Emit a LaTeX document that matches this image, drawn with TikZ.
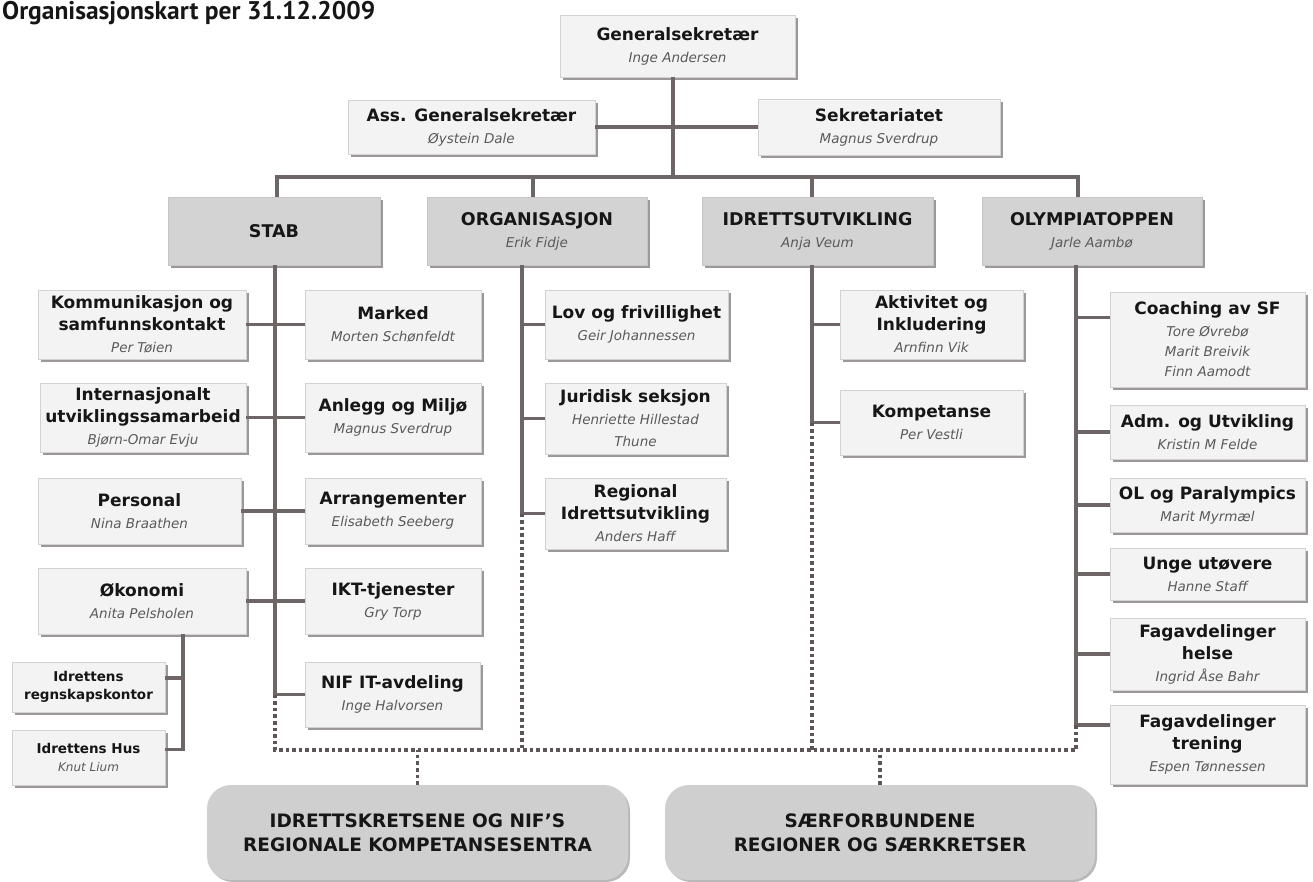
\documentclass[tikz,border=0pt]{standalone}
\usepackage{fontspec}
\setmainfont{DejaVu Sans}
\newfontfamily\ttlfont{PT Sans}
\usetikzlibrary{shadows}
\definecolor{linec}{HTML}{6E6666}
\definecolor{dotcol}{HTML}{5E5656}
\definecolor{boxfill}{HTML}{F3F3F3}
\definecolor{boxline}{HTML}{D2D2D2}
\definecolor{shadowc}{HTML}{9C9898}
\definecolor{headfill}{HTML}{D3D3D3}
\definecolor{headline}{HTML}{C6C6C6}
\definecolor{botfill}{HTML}{CFCFCF}
\definecolor{txtc}{HTML}{161616}
\definecolor{namec}{HTML}{5A5A5A}
\newcommand\nm[1]{{\fontsize{13.5}{20}\selectfont\mdseries\itshape\color{namec}#1}}
\newcommand\snm[1]{{\fontsize{12}{16}\selectfont\mdseries\itshape\color{namec}#1}}
\begin{document}
\begin{tikzpicture}[x=1pt,y=-1pt,
  sz/.style 2 args={minimum width=#1pt, minimum height=#2pt},
  box/.style={draw=boxline, line width=0.8pt, fill=boxfill,
    drop shadow={shadow xshift=2.5pt, shadow yshift=-3pt, fill=shadowc, opacity=1},
    inner sep=0pt, align=center, text=txtc,
    font=\fontsize{17}{22}\selectfont\bfseries},
  head/.style={box, fill=headfill, draw=headline,
    font=\fontsize{17.5}{22}\selectfont\bfseries},
  smallbox/.style={box, font=\fontsize{13.5}{18}\selectfont\bfseries},
  bottom/.style={fill=botfill, rounded corners=24pt, inner sep=0pt, align=center,
    text=txtc, drop shadow={shadow xshift=2pt, shadow yshift=-2pt, fill=gray!55, opacity=1},
    font=\fontsize{18.5}{24}\selectfont\bfseries},
  conn/.style={draw=linec, line width=3.4pt},
  dotc/.style={draw=dotcol, line width=3.2pt, dash pattern=on 3.6pt off 3pt}]
\useasboundingbox (0,0) rectangle (1313,882);
\fill[white] (0,0) rectangle (1313,882);

% title
\node[anchor=base west, inner sep=0pt, text=txtc, font={\ttlfont\bfseries\fontsize{25.5}{28}\selectfont}] (title) at (2,20) {Organisasjonskart per 31.12.2009};

% top level
\node[box, sz={235}{62}] (gen) at (677.5,46) {Generalsekretær\\\nm{Inge Andersen}};
\node[box, sz={247}{54}] (ass) at (471.5,127) {Ass. Generalsekretær\\\nm{Øystein Dale}};
\node[box, sz={242}{56}] (sek) at (879,127) {Sekretariatet\\\nm{Magnus Sverdrup}};

% level 2
\node[head, sz={212}{68}] (stab) at (274,231) {STAB};
\node[head, sz={220}{68}] (org) at (537,231) {ORGANISASJON\\\nm{Erik Fidje}};
\node[head, sz={231}{68}] (idr) at (817.5,231) {IDRETTSUTVIKLING\\\nm{Anja Veum}};
\node[head, sz={220}{68}] (oly) at (1092,231) {OLYMPIATOPPEN\\\nm{Jarle Aambø}};

% STAB left
\node[box, sz={208}{69}] (komm) at (142,324.5) {Kommunikasjon og\\samfunnskontakt\\\nm{Per Tøien}};
\node[box, sz={206}{69}] (intl) at (143,417.5) {Internasjonalt\\utviklingssamarbeid\\\nm{Bjørn-Omar Evju}};
\node[box, sz={203}{66}] (pers) at (139.5,511) {Personal\\\nm{Nina Braathen}};
\node[box, sz={208}{66}] (okon) at (142,601) {Økonomi\\\nm{Anita Pelsholen}};
\node[smallbox, sz={153}{50}] (regn) at (88.5,687) {Idrettens\\regnskapskontor};
\node[smallbox, sz={153}{55}] (hus) at (88.5,757.5) {Idrettens Hus\\\snm{Knut Lium}};

% STAB right
\node[box, sz={176}{69}] (marked) at (393,324.5) {Marked\\\nm{Morten Schønfeldt}};
\node[box, sz={176}{69}] (anlegg) at (393,417.5) {Anlegg og Miljø\\\nm{Magnus Sverdrup}};
\node[box, sz={176}{66}] (arr) at (393,511) {Arrangementer\\\nm{Elisabeth Seeberg}};
\node[box, sz={176}{66}] (ikt) at (393,601) {IKT-tjenester\\\nm{Gry Torp}};
\node[box, sz={175}{65}] (nifit) at (392.5,694.5) {NIF IT-avdeling\\\nm{Inge Halvorsen}};

% ORGANISASJON
\node[box, sz={183}{69}] (lov) at (636.5,324.5) {Lov og frivillighet\\\nm{Geir Johannessen}};
\node[box, sz={181}{71}] (jur) at (635.5,418.5) {Juridisk seksjon\\\nm{Henriette Hillestad}\\\nm{Thune}};
\node[box, sz={181}{71}] (reg) at (635.5,513.5) {Regional\\Idrettsutvikling\\\nm{Anders Haff}};

% IDRETTSUTVIKLING
\node[box, sz={183}{69}] (akt) at (931.5,324.5) {Aktivitet og\\Inkludering\\\nm{Arnfinn Vik}};
\node[box, sz={183}{65}] (komp) at (931.5,422.5) {Kompetanse\\\nm{Per Vestli}};

% OLYMPIATOPPEN
\node[box, sz={195}{95}] (coach) at (1207.5,339.5) {Coaching av SF\\\nm{Tore Øvrebø}\\[-2pt]\nm{Marit Breivik}\\[-2pt]\nm{Finn Aamodt}};
\node[box, sz={195}{54}] (adm) at (1207.5,432) {Adm. og Utvikling\\\nm{Kristin M Felde}};
\node[box, sz={195}{54}] (ol) at (1207.5,505) {OL og Paralympics\\\nm{Marit Myrmæl}};
\node[box, sz={195}{52}] (unge) at (1207.5,574) {Unge utøvere\\\nm{Hanne Staff}};
\node[box, sz={195}{72}] (helse) at (1207.5,654) {Fagavdelinger\\helse\\\nm{Ingrid Åse Bahr}};
\node[box, sz={195}{79}] (tren) at (1207.5,744.5) {Fagavdelinger\\trening\\\nm{Espen Tønnessen}};

% bottom
\node[bottom, sz={421}{95}] (bl) at (417.5,832.5) {IDRETTSKRETSENE OG NIF'S\\REGIONALE KOMPETANSESENTRA};
\node[bottom, sz={430}{95}] (br) at (880,832.5) {SÆRFORBUNDENE\\REGIONER OG SÆRKRETSER};

% coordinates for trunks
\coordinate (gx) at (673,177);
\coordinate (barY) at (0,177);
\coordinate (sT) at (277,0);
\coordinate (oT) at (533,0);
\coordinate (iT) at (812,0);
\coordinate (uT) at (1078,0);
\coordinate (sB) at (275,0);
\coordinate (oB) at (522,0);
\coordinate (iB) at (812,0);
\coordinate (uB) at (1076,0);
\coordinate (eB) at (183,0);
\coordinate (dotY) at (0,750);
\coordinate (coachC) at ([yshift=22pt]coach.west);
\coordinate (trenC) at ([yshift=19.5pt]tren.west);
\coordinate (regnC) at ([yshift=9pt]regn.east);
\coordinate (husC) at ([yshift=8pt]hus.east);

% top connectors
\draw[conn] (gen.south -| gx) -- (gx);
\draw[conn] (ass.east) -- (sek.west);
\draw[conn] (stab.north -| sT) -- (sT |- barY) -- (uT |- barY) -- (oly.north -| uT);
\draw[conn] (org.north -| oT) -- (oT |- barY);
\draw[conn] (idr.north -| iT) -- (iT |- barY);

% STAB
\draw[conn] (stab.south -| sB) -- (sB |- nifit.west) -- (nifit.west);
\draw[conn] (komm.east) -- (marked.west);
\draw[conn] (intl.east) -- (anlegg.west);
\draw[conn] (pers.east) -- (arr.west);
\draw[conn] (okon.east) -- (ikt.west);
\draw[conn] (okon.south -| eB) -- (eB |- husC) -- (husC);
\draw[conn] (regnC) -- (eB |- regnC);

% ORGANISASJON
\draw[conn] (org.south -| oB) -- (oB |- reg.west);
\draw[conn] (oB |- lov.west) -- (lov.west);
\draw[conn] (oB |- jur.west) -- (jur.west);
\draw[conn] (oB |- reg.west) -- (reg.west);

% IDRETTSUTVIKLING
\draw[conn] (idr.south -| iB) -- (iB |- komp.west);
\draw[conn] (iB |- akt.west) -- (akt.west);
\draw[conn] (iB |- komp.west) -- (komp.west);

% OLYMPIATOPPEN
\draw[conn] (oly.south -| uB) -- (uB |- trenC);
\draw[conn] (uB |- coachC) -- (coachC);
\draw[conn] (uB |- adm.west) -- (adm.west);
\draw[conn] (uB |- ol.west) -- (ol.west);
\draw[conn] (uB |- unge.west) -- (unge.west);
\draw[conn] (uB |- helse.west) -- (helse.west);
\draw[conn] (uB |- trenC) -- (trenC);

% dotted links
\draw[dotc] (sB |- nifit.west) -- (sB |- dotY) -- (uB |- dotY) -- (uB |- trenC);
\draw[dotc] (oB |- reg.west) -- (oB |- dotY);
\draw[dotc] (iB |- komp.west) -- (iB |- dotY);
\draw[dotc] (bl.north) -- (bl.north |- dotY);
\draw[dotc] (br.north) -- (br.north |- dotY);
\end{tikzpicture}
\end{document}
